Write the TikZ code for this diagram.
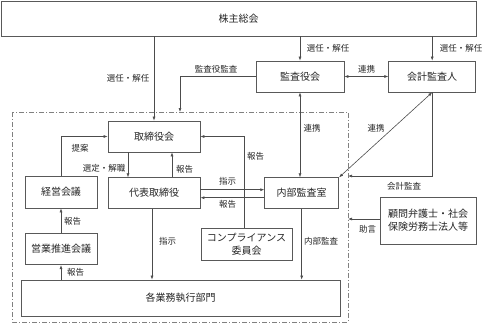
\documentclass[tikz,border=0pt]{standalone}
\usepackage{fontspec}
\setmainfont{Noto Sans CJK JP}
\usetikzlibrary{arrows.meta, positioning, calc}

\begin{document}
\begin{tikzpicture}[
    x=1pt,
    y=-1pt,
    box/.style={
        rectangle,
        draw=black!65,
        line width=0.7pt,
        fill=white,
        minimum height=31pt,
        inner sep=2pt,
        align=center,
        text=black!85,
        font=\fontsize{10}{13}\selectfont
    },
    lbl/.style={
        inner sep=1pt,
        text=black!85,
        font=\fontsize{8.5}{10}\selectfont
    },
    frame/.style={draw=black!50, line width=0.6pt, dash pattern=on 5pt off 2pt on 1pt off 2pt},
    arrow/.style={-{Latex[length=4pt,width=3pt]}, draw=black!70, line width=0.6pt},
    dblarrow/.style={{Latex[length=4pt,width=3pt]}-{Latex[length=4pt,width=3pt]}, draw=black!70, line width=0.6pt},
    node distance=25pt and 44pt
]

\useasboundingbox (0,0) rectangle (490,325);

\coordinate (frameNW) at (12,112);
\coordinate (frameSE) at (348,322);
\draw[frame] (frameNW) rectangle (frameSE);

\node[box, minimum width=475pt, minimum height=35pt] (soukai) at (238.5,18.5) {株主総会};

\node[box, minimum width=88pt] (kansa) at (300,76.5) {監査役会};
\node[box, minimum width=87pt, right=44pt of kansa] (kaikei) {会計監査人};

\node[box, minimum width=92pt] (torikai) at (154,136.5) {取締役会};
\node[box, minimum width=92pt, below=25pt of torikai] (daihyo) {代表取締役};
\node[box, minimum width=74pt, right=64pt of daihyo] (naibu) {内部監査室};
\node[box, minimum width=91pt, minimum height=32pt] (comp) at (246.5,244) {コンプライアンス\\委員会};

\node[box, minimum width=72pt, minimum height=32pt] (keiei) at (61,192) {経営会議};
\node[box, minimum width=72pt, below=25pt of keiei] (eigyo) {営業推進会議};

\node[box, minimum width=319pt, minimum height=36pt] (gyomu) at (180.5,298) {各業務執行部門};

\node[box, minimum width=96pt, minimum height=47pt] (komon) at (428,220.5) {顧問弁護士・社会\\保険労務士法人等};

\coordinate (auditIn) at (180,112);
\coordinate (kaikeiIn) at (348,176);
\coordinate (adviceIn) at (348,219);

\draw[arrow] (soukai.south -| torikai.north) -- (torikai.north);
\draw[arrow] (soukai.south -| kansa.north) -- (kansa.north);
\draw[arrow] (soukai.south -| kaikei.north) -- (kaikei.north);
\draw[arrow] (kansa.west) -| (auditIn);
\draw[dblarrow] (kansa.east) -- (kaikei.west);
\draw[dblarrow] (kansa.south) -- (kansa.south |- naibu.north);
\draw[dblarrow] (kaikei.south) -- (naibu.north east);
\draw[arrow] (kaikei.south) |- (kaikeiIn);
\draw[arrow] (komon.west |- adviceIn) -- (adviceIn);

\draw[arrow] (keiei.north) |- (torikai.west);
\draw[arrow] (eigyo.north) -- (keiei.south);
\draw[arrow] (eigyo.south |- gyomu.north) -- (eigyo.south);
\draw[arrow] ([xshift=-26pt]torikai.south) -- ([xshift=-26pt]daihyo.north);
\draw[arrow] ([xshift=18pt]daihyo.north) -- ([xshift=18pt]torikai.south);
\draw[arrow] ([yshift=3.5pt]daihyo.east) -- ([yshift=3.5pt]naibu.west);
\draw[arrow] ([yshift=-4.5pt]naibu.west) -- ([yshift=-4.5pt]daihyo.east);
\draw[arrow] ([xshift=-2.5pt]comp.north) |- (torikai.east);
\draw[arrow] ([xshift=-2pt]daihyo.south) -- ([xshift=-2pt]daihyo.south |- gyomu.north);
\draw[arrow] (naibu.south) -- (naibu.south |- gyomu.north);

\node[lbl] (lblSenninA) at (128,78) {選任・解任};
\node[lbl] (lblKansa) at (216,69) {監査役監査};
\node[lbl] (lblSenninB) at (328,48) {選任・解任};
\node[lbl] (lblSenninC) at (461,48) {選任・解任};
\node[lbl] (lblRenkeiA) at (366.5,69) {連携};
\node[lbl] (lblRenkeiB) at (312,128) {連携};
\node[lbl] (lblRenkeiC) at (376,128) {連携};
\node[lbl] (lblHoukokuA) at (255.5,156) {報告};
\node[lbl] (lblTeian) at (80,148) {提案};
\node[lbl] (lblSentei) at (104,168) {選定・解職};
\node[lbl] (lblHoukokuB) at (184.5,169) {報告};
\node[lbl] (lblShijiA) at (227.5,181) {指示};
\node[lbl] (lblHoukokuC) at (227.5,204) {報告};
\node[lbl] (lblKaikei) at (404,186) {会計監査};
\node[lbl] (lblHoukokuD) at (72.5,221) {報告};
\node[lbl] (lblShijiB) at (167.5,241) {指示};
\node[lbl] (lblNaibu) at (321,241) {内部監査};
\node[lbl] (lblJogen) at (367.5,229) {助言};
\node[lbl] (lblHoukokuE) at (75.5,272) {報告};

\end{tikzpicture}
\end{document}
